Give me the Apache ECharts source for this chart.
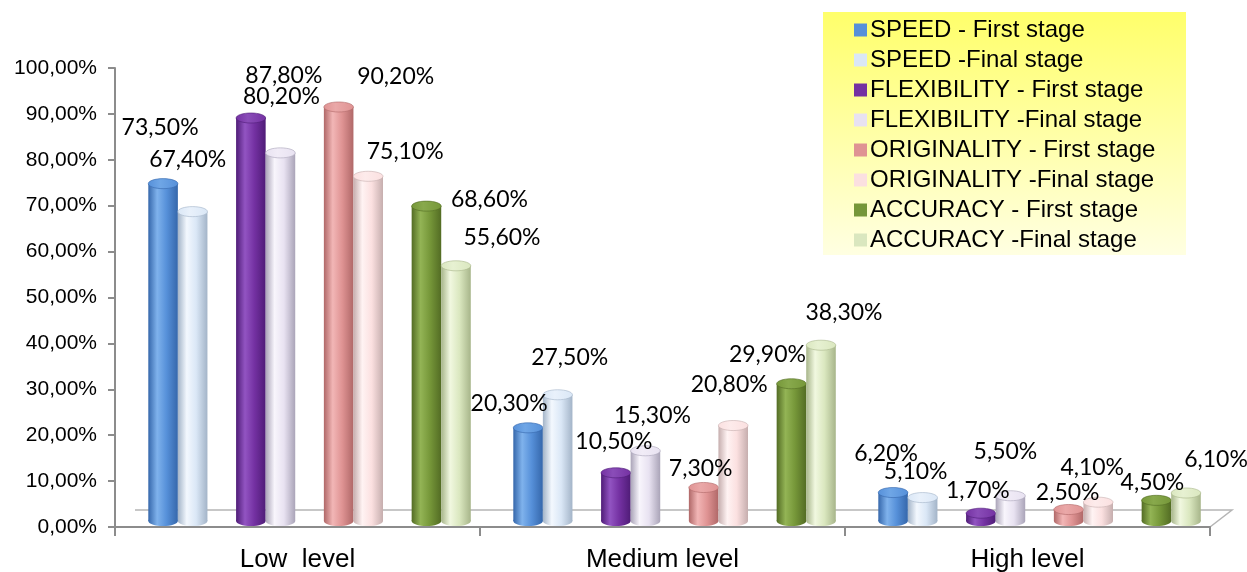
<!DOCTYPE html>
<html>
<head>
<meta charset="utf-8">
<script src="https://cdn.jsdelivr.net/npm/echarts@6/dist/echarts.min.js"></script>
<style>
  html, body { margin: 0; padding: 0; background: #ffffff; }
  #chart { width: 1247px; height: 572px; }
</style>
</head>
<body>
<div id="chart"></div>
<script>
// Creativity indicators by level, first vs final stage (percent of students)
const levels = ['Low  level', 'Medium level', 'High level'];
const seriesNames = [
  'SPEED - First stage', 'SPEED -Final stage',
  'FLEXIBILITY - First stage', 'FLEXIBILITY -Final stage',
  'ORIGINALITY - First stage', 'ORIGINALITY -Final stage',
  'ACCURACY - First stage', 'ACCURACY -Final stage'
];
const speedFirst = [73.5, 20.3, 6.2];
const speedFinal = [67.4, 27.5, 5.1];
const flexFirst = [87.8, 10.5, 1.7];
const flexFinal = [80.2, 15.3, 5.5];
const origFirst = [90.2, 7.3, 2.5];
const origFinal = [75.1, 20.8, 4.1];
const accFirst = [68.6, 29.9, 4.5];
const accFinal = [55.6, 38.3, 6.1];
const yTicks = [0, 10, 20, 30, 40, 50, 60, 70, 80, 90, 100];

const allValues = [speedFirst, speedFinal, flexFirst, flexFinal, origFirst, origFinal, accFirst, accFinal];

// cylinder shading: [edge, highlight, body, top cap]
const shades = [
  ['#3567ab', '#7fb2ec', '#5690d9', '#6fa6e6'],
  ['#a3b4c8', '#f3f8fe', '#dae7f6', '#e9f1fb'],
  ['#4f1c77', '#9254c2', '#7431a2', '#8a4db8'],
  ['#aaa4b8', '#f8f5fc', '#e8e2f1', '#f1ecf7'],
  ['#b06868', '#f2b6b6', '#df9393', '#eaa8a8'],
  ['#c6aeae', '#fff3f3', '#fbe0e0', '#fdebeb'],
  ['#536c24', '#93b455', '#769739', '#88a94c'],
  ['#a7b58a', '#f1f8e0', '#dae7bf', '#e7f1d2']
];

// value-label placement relative to the top of each cylinder [dx, dy]
const labelShift = [
  [[-3, -56], [-19, -24], [-7, -39]],
  [[-5, -52], [12, -37], [-7, -26]],
  [[33, -42], [-2, -31], [-3, -23]],
  [[1, -56], [7, -35], [-5, -44]],
  [[57, -30], [-3, -19], [-1, -17]],
  [[37, -25], [-4, -41], [-6, -35]],
  [[63, -7], [-24, -29], [-4, -18]],
  [[46, -28], [23, -33], [30, -33]]
];

const fmtPct = v => v.toFixed(2).replace('.', ',') + '%';

function cylinderRenderer(params, api) {
  const s = params.seriesIndex;
  const cat = api.value(0);
  const v = api.value(1);
  const base = api.coord([cat, 0]);
  const top = api.coord([cat, v]);
  const band = api.size([1, 0])[0];
  const pair = s >> 1, side = s & 1;
  const barW = band * 0.081;
  const pairC = base[0] + (pair - 1.5) * band * 0.2405 + band * 0.033;
  const x0 = pairC - barW + side * barW;
  const lift = -6;
  const yTop = top[1] + lift;
  const yBot = base[1] + lift;
  const rx = barW / 2, ry = barW * 0.17;
  const c = shades[s];
  const bodyFill = new echarts.graphic.LinearGradient(0, 0, 1, 0, [
    { offset: 0, color: c[0] },
    { offset: 0.3, color: c[1] },
    { offset: 0.62, color: c[2] },
    { offset: 1, color: c[0] }
  ]);
  const capFill = new echarts.graphic.LinearGradient(0, 0, 1, 0, [
    { offset: 0, color: c[2] },
    { offset: 0.4, color: c[3] },
    { offset: 1, color: c[2] }
  ]);
  const sh = labelShift[s][cat];
  return {
    type: 'group',
    children: [
      { type: 'ellipse', shape: { cx: x0 + rx, cy: yBot, rx: rx, ry: ry }, style: { fill: bodyFill } },
      { type: 'rect', shape: { x: x0, y: yTop, width: barW, height: Math.max(0, yBot - yTop) }, style: { fill: bodyFill } },
      { type: 'ellipse', shape: { cx: x0 + rx, cy: yTop, rx: rx, ry: ry }, style: { fill: capFill, stroke: c[0], lineWidth: 0.6 } },
      {
        type: 'text', z2: 100,
        style: {
          x: x0 + rx + sh[0], y: yTop + sh[1],
          text: fmtPct(v),
          fill: '#000000',
          font: '23px Lato, "Open Sans", sans-serif',
          align: 'center', verticalAlign: 'middle'
        }
      }
    ]
  };
}

const series = seriesNames.map((name, i) => ({
  name: name,
  type: 'custom',
  renderItem: cylinderRenderer,
  itemStyle: { color: shades[i][2] },
  encode: { x: 0, y: 1 },
  data: allValues[i].map((v, k) => [k, v])
}));

const chart = echarts.init(document.getElementById('chart'), null, { renderer: 'canvas' });
chart.setOption({
  animation: false,
  backgroundColor: '#ffffff',
  grid: { left: 115, right: 37, top: 68, bottom: 45, containLabel: false, outerBoundsMode: 'none' },
  legend: {
    orient: 'vertical',
    left: 849, top: 13,
    itemWidth: 13, itemHeight: 13, itemGap: 6,
    icon: 'rect',
    textStyle: { fontFamily: '"Liberation Sans", Arial, sans-serif', fontSize: 24, lineHeight: 24, color: '#000000', padding: [0, 0, 0, -2] },
    data: seriesNames
  },
  xAxis: {
    type: 'category',
    data: levels,
    boundaryGap: true,
    axisLine: { lineStyle: { color: '#8c8c8c', width: 2 } },
    axisTick: { show: true, length: 9, lineStyle: { color: '#8c8c8c', width: 2 } },
    axisLabel: { fontFamily: '"Liberation Sans", Arial, sans-serif', fontSize: 26, color: '#000000', margin: 20 },
    splitLine: { show: false }
  },
  yAxis: {
    type: 'value',
    min: yTicks[0], max: yTicks[yTicks.length - 1], interval: 10,
    axisLine: { show: true, lineStyle: { color: '#8c8c8c', width: 2 } },
    axisTick: { show: true, length: 7, lineStyle: { color: '#8c8c8c', width: 2 } },
    axisLabel: { fontFamily: '"Liberation Sans", Arial, sans-serif', fontSize: 21, color: '#000000', margin: 18, formatter: fmtPct },
    splitLine: { show: false }
  },
  graphic: [
    {
      type: 'rect', z: -10, silent: true,
      shape: { x: 823, y: 12, width: 363, height: 243 },
      style: {
        fill: new echarts.graphic.LinearGradient(0, 0, 0, 1, [
          { offset: 0, color: '#ffff6a' },
          { offset: 1, color: '#ffffe2' }
        ])
      }
    },
    {
      type: 'polyline', z: -5, silent: true,
      shape: { points: [[135, 510], [1232, 510], [1210, 527]] },
      style: { stroke: '#b5b5b5', lineWidth: 1.5, fill: null }
    }
  ],
  series: series
});
</script>
</body>
</html>
